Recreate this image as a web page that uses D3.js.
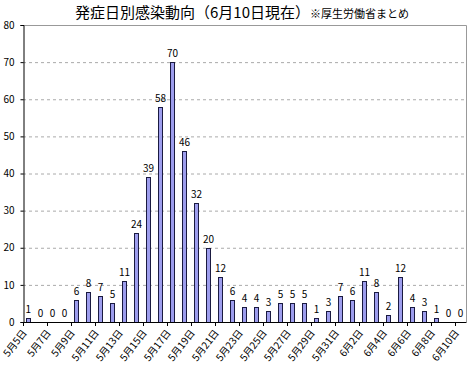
<!DOCTYPE html>
<html>
<head>
<meta charset="utf-8">
<script src="https://cdn.jsdelivr.net/npm/d3@7"></script>
<style>
  body { margin: 0; background: #fff; }
  text { font-family: "Noto Sans CJK JP", sans-serif; }
</style>
</head>
<body>
<div id="chart"></div>
<script>
// 発症日 (5/5 .. 6/10)
const dates = [
  '5月5日', '5月6日', '5月7日', '5月8日', '5月9日', '5月10日', '5月11日', '5月12日',
  '5月13日', '5月14日', '5月15日', '5月16日', '5月17日', '5月18日', '5月19日', '5月20日',
  '5月21日', '5月22日', '5月23日', '5月24日', '5月25日', '5月26日', '5月27日', '5月28日',
  '5月29日', '5月30日', '5月31日', '6月1日', '6月2日', '6月3日', '6月4日', '6月5日',
  '6月6日', '6月7日', '6月8日', '6月9日', '6月10日'
];
const cases = [
  1, 0, 0, 0, 6, 8, 7, 5, 11, 24, 39, 58, 70, 46, 32, 20,
  12, 6, 4, 4, 3, 5, 5, 5, 1, 3, 7, 6, 11, 8, 2, 12,
  4, 3, 1, 0, 0
];
const yTicks = [0, 10, 20, 30, 40, 50, 60, 70, 80];

const width = 475;
const height = 370;
const plot = { left: 23, right: 466, top: 25, bottom: 322 };

const svg = d3.select('#chart')
  .append('svg')
  .attr('width', width)
  .attr('height', height);

const x = d3.scaleBand()
  .domain(dates)
  .range([plot.left, plot.right])
  .paddingInner(0.6)
  .paddingOuter(0.25);

const y = d3.scaleLinear()
  .domain([0, 80])
  .range([plot.bottom, plot.top]);

// gridlines
svg.append('g')
  .selectAll('line')
  .data(yTicks.filter(d => d > 0 && d < 80))
  .enter()
  .append('line')
  .attr('x1', plot.left)
  .attr('x2', plot.right)
  .attr('y1', d => y(d) + 0.5)
  .attr('y2', d => y(d) + 0.5)
  .attr('stroke', '#aaa')
  .attr('stroke-dasharray', '3,3');

// top / right border
svg.append('path')
  .attr('d', `M${plot.left},${plot.top + 0.5}H${plot.right + 0.5}V${plot.bottom}`)
  .attr('fill', 'none')
  .attr('stroke', '#999');

// y axis
const yAxis = svg.append('g')
  .attr('transform', `translate(${plot.left + 0.5},0)`)
  .call(d3.axisLeft(y).tickValues(yTicks).tickSize(3).tickPadding(6));
yAxis.select('.domain').attr('stroke', '#000');
yAxis.selectAll('text')
  .attr('font-size', 10)
  .attr('fill', '#000');

// bars
svg.append('g')
  .selectAll('rect')
  .data(cases)
  .enter()
  .append('rect')
  .attr('x', (d, i) => Math.round(x(dates[i])) + 0.5)
  .attr('y', d => Math.round(y(d)) + 0.5)
  .attr('width', Math.round(x.bandwidth()) - 1)
  .attr('height', d => plot.bottom - Math.round(y(d)))
  .attr('fill', '#9d9ded')
  .attr('stroke', '#1a1a40')
  .attr('stroke-width', 1);

// value labels
svg.append('g')
  .selectAll('text')
  .data(cases)
  .enter()
  .append('text')
  .attr('x', (d, i) => x(dates[i]) + x.bandwidth() / 2)
  .attr('y', d => y(d) - 5)
  .attr('text-anchor', 'middle')
  .attr('font-size', 10)
  .text(d => d);

// x axis
const step = x.step();
svg.append('line')
  .attr('x1', plot.left)
  .attr('x2', plot.right + 0.5)
  .attr('y1', plot.bottom + 0.5)
  .attr('y2', plot.bottom + 0.5)
  .attr('stroke', '#000');

svg.append('g')
  .selectAll('line')
  .data(d3.range(0, dates.length + 1, 2))
  .enter()
  .append('line')
  .attr('x1', i => Math.round(plot.left + i * step) + 0.5)
  .attr('x2', i => Math.round(plot.left + i * step) + 0.5)
  .attr('y1', plot.bottom)
  .attr('y2', plot.bottom + 4)
  .attr('stroke', '#000');

svg.append('g')
  .selectAll('text')
  .data(dates.filter((d, i) => i % 2 === 0))
  .enter()
  .append('text')
  .attr('transform', d => `translate(${x(d) + x.bandwidth() / 2 - 1},${plot.bottom + 11}) rotate(-52)`)
  .attr('text-anchor', 'end')
  .attr('font-size', 10)
  .text(d => d);

// title
const title = svg.append('text')
  .attr('x', 75)
  .attr('y', 18)
  .attr('font-size', 15);
title.append('tspan').text('発症日別感染動向（6月10日現在）');
title.append('tspan').attr('font-size', 11).text('※厚生労働省まとめ');
</script>
</body>
</html>
